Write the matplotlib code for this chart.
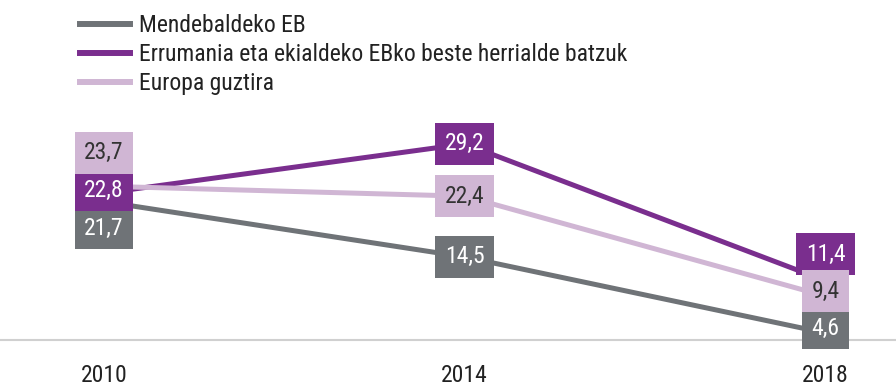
import matplotlib.pyplot as plt
from matplotlib.lines import Line2D
from matplotlib import font_manager

years = [2010, 2014, 2018]
mendebaldeko = [21.7, 14.5, 4.6]
errumania = [22.8, 29.2, 11.4]
europa = [23.7, 22.4, 9.4]
labels = ["Mendebaldeko EB",
          "Errumania eta ekialdeko EBko beste herrialde batzuk",
          "Europa guztira"]

grey = "#6f7377"
purple = "#7a2e8e"
pink = "#d0b6d4"

names = {f.name for f in font_manager.fontManager.ttflist}
family = next((f for f in ["Roboto Condensed", "Archivo Narrow", "Fira Sans Condensed"] if f in names), "DejaVu Sans")
plt.rcParams["font.family"] = [family, "DejaVu Sans"]

fig = plt.figure(figsize=(8.96, 3.85), dpi=100)
ax = fig.add_axes([0, 0.117, 1, 0.597])

series = [(mendebaldeko, grey, "white"), (errumania, purple, "white"), (europa, pink, "#333333")]
handles = []
for (vals, col, _), lab in zip(series, labels):
    ax.plot(years, vals, color=col, lw=3.6, solid_capstyle="butt", zorder=2)
    handles.append(Line2D([], [], color=col, lw=4.3, label=lab))

# label boxes: vertical offsets (points) keep the crowded ones apart
offsets = {
    0: [-19, 2, 24],
    1: [0, 0, 0],
    2: [3.6, 19, 3.6],
}
for i, x in enumerate(years):
    for j, (vals, col, tc) in enumerate(series):
        ax.annotate(f"{vals[i]:.1f}".replace(".", ","), xy=(x, vals[i]),
                    xytext=(0, offsets[i][j]), textcoords="offset points",
                    ha="center", va="center", fontsize=17, color=tc, zorder=3,
                    bbox=dict(boxstyle="square,pad=0.4", fc=col, ec="none"))

ax.set_xlim(2008.85, 2018.78)
ax.set_ylim(3.7, 33.6)
ax.set_xticks(years)
ax.set_xticklabels([str(y) for y in years], fontsize=17, color="#222222")
ax.tick_params(axis="x", length=0, pad=17)
ax.set_yticks([])
for s in ["top", "right", "left"]:
    ax.spines[s].set_visible(False)
ax.spines["bottom"].set_color("#d0d0d0")
ax.spines["bottom"].set_linewidth(1.5)
ax.patch.set_alpha(0)

fig.legend(handles=handles, loc="upper left", bbox_to_anchor=(0.074, 1.0),
           frameon=False, fontsize=17, handlelength=2.1, handletextpad=0.4,
           labelspacing=0.25, borderaxespad=0.2, labelcolor="#222222")

fig.savefig("out.png", dpi=100)
